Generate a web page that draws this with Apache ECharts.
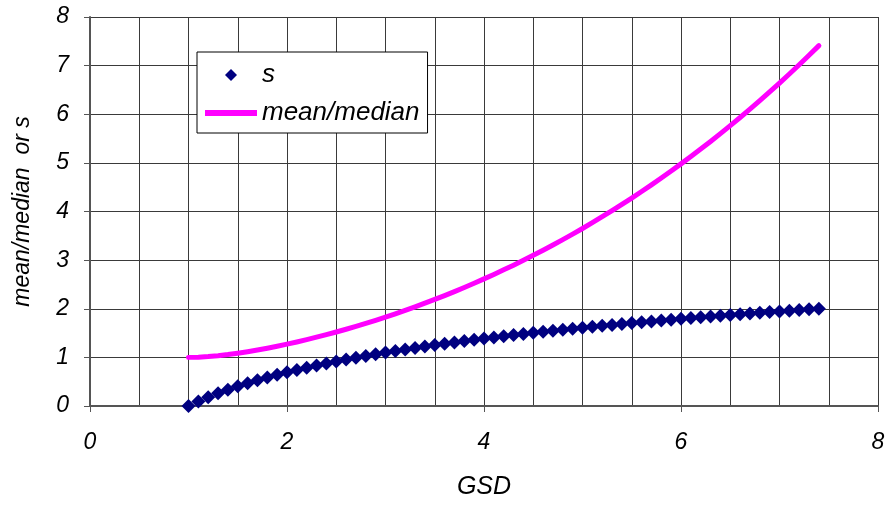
<!DOCTYPE html>
<html>
<head>
<meta charset="utf-8">
<script src="https://cdn.jsdelivr.net/npm/echarts@6/dist/echarts.min.js"></script>
<style>
  html, body { margin: 0; padding: 0; background: #fff; }
  #chart { width: 891px; height: 506px; }
</style>
</head>
<body>
<div id="chart"></div>
<script>
// Geometric standard deviation values (x)
const gsd = [
  1.0, 1.1, 1.2, 1.3, 1.4, 1.5, 1.6, 1.7, 1.8, 1.9,
  2.0, 2.1, 2.2, 2.3, 2.4, 2.5, 2.6, 2.7, 2.8, 2.9,
  3.0, 3.1, 3.2, 3.3, 3.4, 3.5, 3.6, 3.7, 3.8, 3.9,
  4.0, 4.1, 4.2, 4.3, 4.4, 4.5, 4.6, 4.7, 4.8, 4.9,
  5.0, 5.1, 5.2, 5.3, 5.4, 5.5, 5.6, 5.7, 5.8, 5.9,
  6.0, 6.1, 6.2, 6.3, 6.4, 6.5, 6.6, 6.7, 6.8, 6.9,
  7.0, 7.1, 7.2, 7.3, 7.4
];

// s values
const sValues = [
  0.000, 0.095, 0.182, 0.262, 0.336, 0.405, 0.470, 0.531, 0.588, 0.642,
  0.693, 0.742, 0.788, 0.833, 0.875, 0.916, 0.956, 0.993, 1.030, 1.065,
  1.099, 1.131, 1.163, 1.194, 1.224, 1.253, 1.281, 1.308, 1.335, 1.361,
  1.386, 1.411, 1.435, 1.459, 1.482, 1.504, 1.526, 1.548, 1.569, 1.589,
  1.609, 1.629, 1.649, 1.668, 1.686, 1.705, 1.723, 1.740, 1.758, 1.775,
  1.792, 1.808, 1.825, 1.841, 1.856, 1.872, 1.887, 1.902, 1.917, 1.932,
  1.946, 1.960, 1.974, 1.988, 2.001
];

// mean/median ratio values
const meanMedian = [
  1.000, 1.005, 1.017, 1.035, 1.058, 1.086, 1.117, 1.151, 1.189, 1.229,
  1.272, 1.317, 1.365, 1.415, 1.467, 1.522, 1.579, 1.638, 1.699, 1.763,
  1.828, 1.896, 1.967, 2.039, 2.115, 2.192, 2.271, 2.353, 2.438, 2.525,
  2.614, 2.706, 2.800, 2.897, 2.997, 3.099, 3.204, 3.312, 3.422, 3.535,
  3.651, 3.770, 3.893, 4.017, 4.145, 4.276, 4.411, 4.548, 4.689, 4.832,
  4.979, 5.130, 5.283, 5.440, 5.601, 5.765, 5.933, 6.105, 6.280, 6.458,
  6.641, 6.828, 7.019, 7.213, 7.411
];

const xTicks = [0, 2, 4, 6, 8];
const yTicks = [0, 1, 2, 3, 4, 5, 6, 7, 8];

const FONT = 'Liberation Sans, Arial, sans-serif';
const gridColor = '#3a3a3a';
const axisColor = '#555555';

const sData = gsd.map((x, i) => [x, sValues[i]]);
const mData = gsd.map((x, i) => [x, meanMedian[i]]);

const chart = echarts.init(document.getElementById('chart'), null, { renderer: 'canvas' });

chart.setOption({
  animation: false,
  backgroundColor: '#ffffff',
  grid: { left: 90, right: 13, top: 17, bottom: 100, containLabel: false },
  legend: {
    left: 197,
    top: 52,
    orient: 'vertical',
    backgroundColor: '#ffffff',
    borderColor: '#000000',
    borderWidth: 1,
    borderRadius: 0,
    padding: [10, 8, 7, 8],
    itemWidth: 52,
    itemHeight: 12,
    itemGap: 12,
    symbolKeepAspect: true,
    textStyle: { fontFamily: FONT, fontStyle: 'italic', fontSize: 26, color: '#000' },
    data: [
      { name: 's', icon: 'path://M0,-6L6,0L0,6L-6,0Z', itemStyle: { color: '#000080' } },
      { name: 'mean/median', icon: 'path://M0,0H52V6H0Z', itemStyle: { color: '#ff00ff' } }
    ]
  },
  xAxis: {
    type: 'value',
    min: xTicks[0],
    max: xTicks[xTicks.length - 1],
    interval: 2,
    name: 'GSD',
    nameLocation: 'middle',
    nameGap: 69,
    nameTextStyle: { fontFamily: FONT, fontStyle: 'italic', fontSize: 25, color: '#000' },
    axisLine: { show: true, onZero: false, lineStyle: { color: axisColor, width: 2 } },
    axisTick: { show: true, inside: false, length: 6, lineStyle: { color: axisColor, width: 1 } },
    axisLabel: {
      margin: 25,
      fontFamily: FONT, fontStyle: 'italic', fontSize: 23, color: '#000'
    },
    splitLine: { show: true, lineStyle: { color: gridColor, width: 1 } },
    minorTick: { show: false, splitNumber: 4 },
    minorSplitLine: { show: true, lineStyle: { color: gridColor, width: 1 } }
  },
  yAxis: {
    type: 'value',
    min: yTicks[0],
    max: yTicks[yTicks.length - 1],
    interval: 1,
    name: 'mean/median  or s',
    nameLocation: 'middle',
    nameGap: 56,
    nameTextStyle: { fontFamily: FONT, fontStyle: 'italic', fontSize: 23, color: '#000' },
    axisLine: { show: true, lineStyle: { color: axisColor, width: 2 } },
    axisTick: { show: true, inside: false, length: 6, lineStyle: { color: axisColor, width: 1 } },
    axisLabel: {
      margin: 21,
      fontFamily: FONT, fontStyle: 'italic', fontSize: 23, color: '#000'
    },
    splitLine: { show: true, lineStyle: { color: gridColor, width: 1 } }
  },
  series: [
    {
      name: 's',
      type: 'scatter',
      data: sData,
      symbol: 'diamond',
      symbolSize: [14, 14],
      itemStyle: { color: '#000080', opacity: 1 },
      z: 3
    },
    {
      name: 'mean/median',
      type: 'line',
      data: mData,
      symbol: 'none',
      smooth: false,
      lineStyle: { color: '#ff00ff', width: 5, cap: 'round', join: 'round' },
      itemStyle: { color: '#ff00ff' },
      z: 2
    }
  ]
});
</script>
</body>
</html>
